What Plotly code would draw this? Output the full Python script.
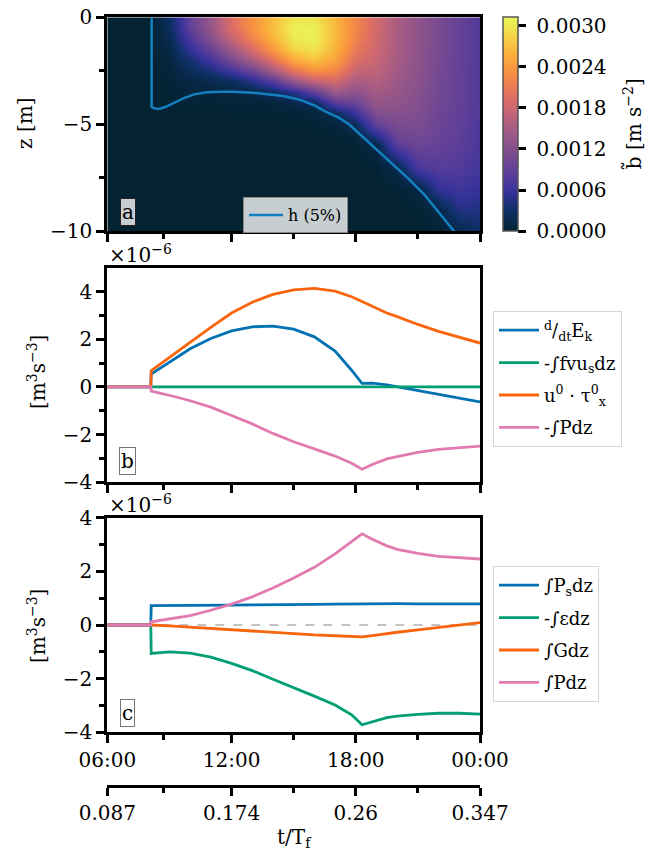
import numpy as np
import plotly.graph_objects as go

FONT = "DejaVu Serif"
W, H = 656, 852

# ---------------- panel a: buoyancy field (values in 1e-4 m s^-2) ----------------
hm_times = [6, 8.1, 9, 10, 11, 12, 13, 14, 15, 16, 17, 18, 19, 20, 21, 22, 23, 24]
hm_depths = [0, -0.5, -1, -1.5, -2, -2.5, -3, -3.5, -4, -4.5, -5, -5.5, -6, -7, -8, -9, -10]
b_profiles = [
    [0] * 17,
    [0] * 17,
    [2.5, 2.3, 1.8, 1.2, 0.8, 0.5, 0.3, 0.2, 0.12, 0, 0, 0, 0, 0, 0, 0, 0],
    [9.3, 8.8, 7.5, 5.5, 3.5, 2.0, 1.0, 0.5, 0.2, 0.05, 0, 0, 0, 0, 0, 0, 0],
    [14, 13.5, 12, 9.5, 6.5, 3.8, 1.6, 0.6, 0.2, 0.05, 0, 0, 0, 0, 0, 0, 0],
    [19.5, 19, 17.5, 14, 10.5, 6.2, 2.5, 0.9, 0.3, 0.1, 0, 0, 0, 0, 0, 0, 0],
    [23.5, 23.3, 22, 19, 15, 9.5, 4.5, 1.2, 0.3, 0.1, 0, 0, 0, 0, 0, 0, 0],
    [26.7, 27, 26, 24, 20, 14.5, 8, 2.5, 0.5, 0.1, 0, 0, 0, 0, 0, 0, 0],
    [29.5, 30.5, 30, 28.5, 25, 20, 13, 4.5, 1.2, 0.3, 0.1, 0, 0, 0, 0, 0, 0],
    [29.5, 30.5, 30.5, 29.5, 27, 23, 17, 8.5, 2.0, 0.5, 0.2, 0, 0, 0, 0, 0, 0],
    [26, 26.5, 26.5, 26, 24.5, 22, 18.5, 14, 8, 2, 0.5, 0.1, 0, 0, 0, 0, 0],
    [22.3, 22.3, 22, 21, 19.5, 17.5, 15, 12.5, 9.5, 6, 2.4, 0.6, 0.1, 0, 0, 0, 0],
    [18.5, 18.5, 18.3, 18, 17.5, 16.8, 15.8, 14.7, 13.3, 11.5, 9, 5, 1.1, 0.1, 0, 0, 0],
    [15.2, 15.2, 15.1, 15, 14.8, 14.4, 14, 13.5, 12.9, 12.1, 11.1, 9.9, 8.3, 1.6, 0.1, 0, 0],
    [12.8, 12.8, 12.8, 12.7, 12.6, 12.5, 12.3, 12.1, 11.8, 11.5, 11.1, 10.5, 9.8, 7.2, 1.1, 0.1, 0],
    [10.8, 10.8, 10.8, 10.8, 10.7, 10.6, 10.5, 10.4, 10.2, 10, 9.8, 9.5, 9.2, 8.1, 5.5, 0.9, 0.1],
    [9.2, 9.2, 9.2, 9.2, 9.2, 9.1, 9.1, 9.1, 9.0, 8.9, 8.8, 8.6, 8.4, 7.7, 6.6, 4.4, 1.6],
    [7.6, 7.6, 7.6, 7.6, 7.6, 7.6, 7.6, 7.5, 7.5, 7.5, 7.4, 7.3, 7.2, 6.7, 5.6, 4.2, 2.8],
]
b_unit = 1e-4
cbar_ticks = [0.0, 0.0006, 0.0012, 0.0018, 0.0024, 0.0030]
cbar_max = 0.00312

h_times = [8.14, 8.14, 8.3, 8.55, 8.9, 9.3, 9.7, 10.2, 10.8, 11.5, 12.1, 13.0, 13.7, 14.5,
           15.3, 16.0, 16.5, 17.2, 17.7, 18.3, 19.0, 19.7, 20.5, 21.3, 22.0, 22.75]
h_depth = [0, -4.19, -4.26, -4.27, -4.15, -3.95, -3.78, -3.6, -3.5, -3.48, -3.48, -3.52, -3.58, -3.68,
           -3.85, -4.12, -4.38, -4.7, -5.02, -5.55, -6.15, -6.8, -7.5, -8.27, -9.1, -10.0]

# ---------------- panels b and c (values in 1e-6 m^3 s^-3) ----------------
t = [6, 8.1, 8.12, 9, 10, 11, 12, 13, 14, 15, 16, 17, 17.8, 18.3, 18.8, 19.5, 20, 21, 22, 23, 24]

dEk_dt = [0, 0, 0.54, 1.05, 1.6, 2.03, 2.35, 2.52, 2.55, 2.42, 2.1, 1.5, 0.7, 0.15, 0.16, 0.09,
          0.01, -0.15, -0.31, -0.47, -0.63]
neg_fvus = [0] * 21
u_tau = [0, 0, 0.68, 1.25, 1.87, 2.5, 3.1, 3.55, 3.88, 4.07, 4.13, 4.02, 3.78, 3.58, 3.38, 3.1,
         2.95, 2.62, 2.33, 2.07, 1.84]
neg_P_b = [0, 0, -0.18, -0.35, -0.58, -0.85, -1.2, -1.55, -1.95, -2.3, -2.6, -2.9, -3.2, -3.45,
           -3.25, -3.02, -2.92, -2.75, -2.62, -2.55, -2.48]

Ps = [0, 0, 0.72, 0.72, 0.73, 0.73, 0.74, 0.75, 0.75, 0.76, 0.77, 0.78, 0.79, 0.8, 0.8, 0.8,
      0.8, 0.79, 0.79, 0.79, 0.79]
neg_eps = [0, 0, -1.06, -1.0, -1.05, -1.2, -1.43, -1.7, -2.02, -2.33, -2.65, -2.98, -3.35, -3.72,
           -3.6, -3.45, -3.4, -3.33, -3.29, -3.29, -3.32]
G = [0, 0, 0, -0.03, -0.08, -0.13, -0.18, -0.23, -0.28, -0.33, -0.37, -0.4, -0.43, -0.44,
     -0.4, -0.32, -0.27, -0.18, -0.09, 0.0, 0.09]
P_c = [0, 0, 0.12, 0.22, 0.35, 0.55, 0.78, 1.05, 1.38, 1.75, 2.15, 2.65, 3.1, 3.4, 3.2, 2.95,
       2.82, 2.67, 2.56, 2.5, 2.46]

names_b = ["<sup>d</sup>/<sub>dt</sub>E<sub>k</sub>", "-∫fvu<sub>s</sub>dz",
           "u<sup>0</sup> · τ<sup>0</sup><sub>x</sub>", "-∫Pdz"]
names_c = ["∫P<sub>s</sub>dz", "-∫εdz", "∫Gdz", "∫Pdz"]
colors = ["#0072B2", "#009E73", "#F8650C", "#E17AB0"]

time_ticks = [6, 12, 18, 24]
time_labels = ["06:00", "12:00", "18:00", "00:00"]
minor_ticks = [8.7, 15, 21]
tf_labels = ["0.087", "0.174", "0.26", "0.347"]

# ---------------- geometry (pixels -> paper) ----------------
def px_x(x):
    return x / W

def px_y(y):
    return 1 - y / H

XD = [px_x(107.3), px_x(480)]
YA = [px_y(231.3), px_y(17.3)]
YB = [px_y(482.3), px_y(267.7)]
YC = [px_y(732.3), px_y(517.7)]

fig = go.Figure()

z = (np.array(b_profiles, dtype=float).T * b_unit).tolist()
fig.add_trace(go.Heatmap(
    x=hm_times, y=hm_depths, z=z, colorscale="thermal", zmin=0, zmax=cbar_max,
    zsmooth="best", xaxis="x", yaxis="y", showscale=True,
    colorbar=dict(
        x=px_x(503.3), xanchor="left", xpad=0, y=YA[1], yanchor="top", ypad=0,
        thickness=15, thicknessmode="pixels", len=(231.3 - 17.3) / H, lenmode="fraction",
        tickvals=cbar_ticks, ticktext=["\u00a0" + f"{v:.4f}" for v in cbar_ticks],
        ticks="outside", ticklen=8, tickwidth=2.5, tickcolor="black",
        outlinecolor="#555555", outlinewidth=1.5,
        tickfont=dict(family=FONT, size=20, color="black"),
    ),
))
fig.add_trace(go.Scatter(
    x=h_times, y=h_depth, mode="lines", name="h (5%)", legend="legend3",
    line=dict(color="#1580C0", width=2.5), xaxis="x", yaxis="y",
))

for i, (vals, nm, c) in enumerate(zip([dEk_dt, neg_fvus, u_tau, neg_P_b], names_b, colors)):
    fig.add_trace(go.Scatter(x=t, y=vals, mode="lines", name=nm, legend="legend",
                             legendgroup=f"b{i}",
                             line=dict(color=c, width=2.8), xaxis="x2", yaxis="y2"))

fig.add_trace(go.Scatter(x=[time_ticks[0], time_ticks[-1]], y=[0, 0], mode="lines",
                         line=dict(color="#888888", width=1.2, dash="dash"),
                         showlegend=False, xaxis="x3", yaxis="y3", hoverinfo="skip"))
for i, (vals, nm, c) in enumerate(zip([Ps, neg_eps, G, P_c], names_c, colors)):
    fig.add_trace(go.Scatter(x=t, y=vals, mode="lines", name=nm, legend="legend2",
                             legendgroup=f"c{i}",
                             line=dict(color=c, width=2.8), xaxis="x3", yaxis="y3"))

# invisible trace to carry the t/Tf axis
fig.add_trace(go.Scatter(x=[time_ticks[0], time_ticks[-1]], y=[0, 0], mode="lines",
                         line=dict(color="rgba(0,0,0,0)"), showlegend=False,
                         xaxis="x4", yaxis="y3", hoverinfo="skip"))

tickfont = dict(family=FONT, size=20, color="black")
common = dict(showline=True, linewidth=3, linecolor="black", mirror=True, ticks="outside",
              ticklen=8, tickwidth=2.5, tickcolor="black", showgrid=False, zeroline=False,
              tickfont=tickfont, automargin=False)
xminor = dict(tickvals=minor_ticks, ticks="outside", ticklen=5, tickwidth=2.5, tickcolor="black",
              showgrid=False)

def xax(anchor, labels):
    d = dict(common)
    d.update(domain=XD, anchor=anchor, range=[6, 24], tickvals=time_ticks,
             ticktext=time_labels, showticklabels=labels, minor=xminor)
    return d

def yax(anchor, dom, rng, major, minor):
    d = dict(common)
    d.update(domain=dom, anchor=anchor, range=rng, tickvals=major,
             minor=dict(tickvals=minor, ticks="outside", ticklen=5, tickwidth=2.5,
                        tickcolor="black", showgrid=False))
    return d

x4 = dict(common)
x4.update(overlaying="x3", anchor="free", position=px_y(785.7), side="bottom",
          range=[6, 24], tickvals=time_ticks, ticktext=tf_labels, mirror=False,
          minor=xminor)

legend_common = dict(xanchor="left", yanchor="top", bgcolor="white", bordercolor="#d5d5d5",
                     borderwidth=1, font=dict(family=FONT, size=18, color="black"),
                     itemwidth=40, tracegroupgap=6)

fig.update_layout(
    width=W, height=H, margin=dict(l=0, r=0, t=0, b=0, pad=0, autoexpand=False),
    paper_bgcolor="white", plot_bgcolor="white",
    font=dict(family=FONT, size=20, color="black"),
    xaxis=xax("y", False),
    yaxis=yax("x", YA, [-10, 0], [-10, -5, 0], [-7.5, -2.5]),
    xaxis2=xax("y2", False),
    yaxis2=yax("x2", YB, [-4, 5], [-4, -2, 0, 2, 4], [-3, -1, 1, 3]),
    xaxis3=xax("y3", True),
    yaxis3=yax("x3", YC, [-4, 4], [-4, -2, 0, 2, 4], [-3, -1, 1, 3]),
    xaxis4=x4,
    legend=dict(legend_common, x=px_x(493), y=px_y(311)),
    legend2=dict(legend_common, x=px_x(493), y=px_y(566)),
    legend3=dict(xanchor="left", yanchor="top", x=px_x(243), y=px_y(197),
                 bgcolor="rgba(255,255,255,0.78)", bordercolor="#888888", borderwidth=1,
                 font=dict(family=FONT, size=16, color="black"), itemwidth=34),
    showlegend=True,
)

ann = []
def note(text, x, y, size=20, angle=0, xanchor="center", **kw):
    ann.append(dict(text=text, x=px_x(x), y=px_y(y), xref="paper", yref="paper",
                    showarrow=False, textangle=angle, xanchor=xanchor, yanchor="middle",
                    font=dict(family=FONT, size=size, color="black"), **kw))

note("z [m]", 25, 124, angle=-90)
note("[m<sup>3</sup>s<sup>−3</sup>]", 37, 372, angle=-90)
note("[m<sup>3</sup>s<sup>−3</sup>]", 37, 626, angle=-90)
note("b̃ [m s<sup>−2</sup>]", 633, 124, angle=-90)
note("×10<sup>−6</sup>", 107, 254, xanchor="left")
note("×10<sup>−6</sup>", 107, 504, xanchor="left")
note("t/T<sub>f</sub>", 294, 838)
note("a", 128, 212, bgcolor="rgba(255,255,255,0.78)", bordercolor="#222222", borderwidth=1,
     borderpad=1)
note("b", 127.5, 461.5, bgcolor="white", bordercolor="#777777", borderwidth=1, borderpad=1)
note("c", 127.5, 712.5, bgcolor="white", bordercolor="#777777", borderwidth=1, borderpad=1)
fig.update_layout(annotations=ann)

fig.write_html("out.html", config={"displayModeBar": False},
               post_script="document.body.style.margin='0';document.body.style.padding='0';")
